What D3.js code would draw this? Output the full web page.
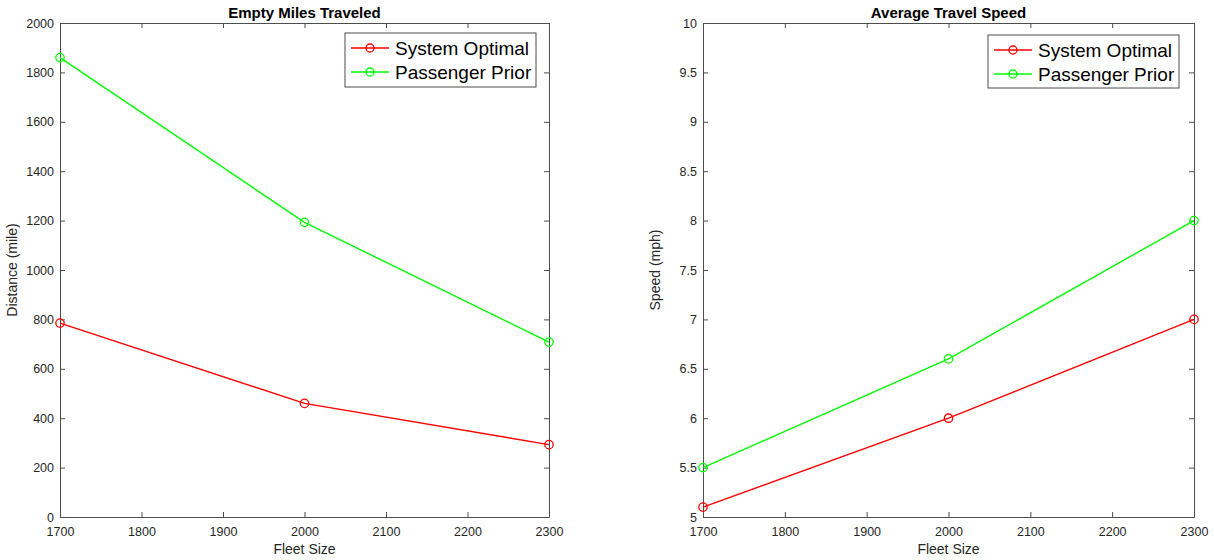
<!DOCTYPE html>
<html>
<head>
<meta charset="utf-8">
<script src="https://cdn.jsdelivr.net/npm/d3@7"></script>
<style>
  body { margin: 0; background: #fff; }
  text { font-family: "Liberation Sans", Arial, sans-serif; fill: #262626; }
</style>
</head>
<body>
<div id="chart"></div>
<script>
// data
const fleetSize = [1700, 2000, 2300];
const seriesNames = ["System Optimal", "Passenger Prior"];
const seriesColors = ["#ff0000", "#00ff00"];

const milesOptimal = [785, 460, 293];
const milesPrior = [1860, 1193, 708];
const speedOptimal = [5.1, 6.0, 7.0];
const speedPrior = [5.5, 6.6, 8.0];

const xTicks = [1700, 1800, 1900, 2000, 2100, 2200, 2300];
const milesTicks = [0, 200, 400, 600, 800, 1000, 1200, 1400, 1600, 1800, 2000];
const speedTicks = [5, 5.5, 6, 6.5, 7, 7.5, 8, 8.5, 9, 9.5, 10];

const width = 1214, height = 560;

const svg = d3.select("#chart")
    .append("svg")
    .attr("width", width)
    .attr("height", height);

const panels = [
    {
        left: 60, right: 549, title: "Empty Miles Traveled", ylabel: "Distance (mile)",
        domain: [0, 2000], ticks: milesTicks, series: [milesOptimal, milesPrior],
        legend: { x: 345, y: 33, w: 191, h: 54 }
    },
    {
        left: 703, right: 1194, title: "Average Travel Speed", ylabel: "Speed (mph)",
        domain: [5, 10], ticks: speedTicks, series: [speedOptimal, speedPrior],
        legend: { x: 988, y: 35, w: 191, h: 53 }
    }
];

const plotTop = 23, plotBottom = 517;
const axisColor = "#4d4d4d";

panels.forEach((p) => {
    const x = d3.scaleLinear().domain([1700, 2300]).range([p.left, p.right]);
    const y = d3.scaleLinear().domain(p.domain).range([plotBottom, plotTop]);
    const g = svg.append("g");

    // ticks on all four sides, pointing in
    const axes = [
        { ax: d3.axisBottom(x).tickValues(xTicks).tickSizeInner(-5).tickSizeOuter(0).tickPadding(10).tickFormat(d3.format("d")), t: `translate(0,${plotBottom})`, labels: true },
        { ax: d3.axisTop(x).tickValues(xTicks).tickSizeInner(-5).tickSizeOuter(0), t: `translate(0,${plotTop})`, labels: false },
        { ax: d3.axisLeft(y).tickValues(p.ticks).tickSizeInner(-5).tickSizeOuter(0).tickPadding(6).tickFormat((d) => String(d)), t: `translate(${p.left},0)`, labels: true },
        { ax: d3.axisRight(y).tickValues(p.ticks).tickSizeInner(-5).tickSizeOuter(0), t: `translate(${p.right},0)`, labels: false }
    ];
    axes.forEach((a) => {
        const ag = g.append("g").attr("transform", a.t).call(a.ax);
        ag.select(".domain").attr("stroke", axisColor).attr("stroke-width", 1);
        ag.selectAll(".tick line").attr("stroke", axisColor);
        ag.selectAll(".tick text")
            .attr("fill", "#262626")
            .style("font-size", "12.5px")
            .style("font-family", "Liberation Sans, Arial, sans-serif");
        if (!a.labels) ag.selectAll(".tick text").remove();
    });

    // title
    g.append("text")
        .attr("x", (p.left + p.right) / 2)
        .attr("y", 18)
        .attr("text-anchor", "middle")
        .style("font-size", "15px")
        .style("font-weight", "bold")
        .style("fill", "#000")
        .text(p.title);

    // x label
    g.append("text")
        .attr("x", (p.left + p.right) / 2)
        .attr("y", 554)
        .attr("text-anchor", "middle")
        .style("font-size", "14px")
        .text("Fleet Size");

    // y label
    g.append("text")
        .attr("transform", `translate(${p.left - 43},${(plotTop + plotBottom) / 2}) rotate(-90)`)
        .attr("text-anchor", "middle")
        .style("font-size", "14px")
        .text(p.ylabel);

    // lines and markers
    const line = d3.line().x((d, i) => x(fleetSize[i])).y((d) => y(d));
    p.series.forEach((vals, si) => {
        g.append("path")
            .datum(vals)
            .attr("d", line)
            .attr("fill", "none")
            .attr("stroke", seriesColors[si])
            .attr("stroke-width", 1.4);
        g.selectAll(null)
            .data(vals)
            .enter()
            .append("circle")
            .attr("cx", (d, i) => x(fleetSize[i]))
            .attr("cy", (d) => y(d))
            .attr("r", 4.2)
            .attr("fill", "none")
            .attr("stroke", seriesColors[si])
            .attr("stroke-width", 1.3);
    });

    // legend
    const L = p.legend;
    const lg = g.append("g").attr("transform", `translate(${L.x},${L.y})`);
    lg.append("rect")
        .attr("width", L.w)
        .attr("height", L.h)
        .attr("fill", "#fff")
        .attr("stroke", axisColor)
        .attr("stroke-width", 1);
    seriesNames.forEach((name, si) => {
        const cy = 15 + si * 24;
        lg.append("line")
            .attr("x1", 6).attr("x2", 44)
            .attr("y1", cy).attr("y2", cy)
            .attr("stroke", seriesColors[si])
            .attr("stroke-width", 1.4);
        lg.append("circle")
            .attr("cx", 25).attr("cy", cy).attr("r", 4)
            .attr("fill", "none")
            .attr("stroke", seriesColors[si])
            .attr("stroke-width", 1.3);
        lg.append("text")
            .attr("x", 50)
            .attr("y", cy + 7)
            .style("font-size", "19px")
            .style("fill", "#000")
            .text(name);
    });
});
</script>
</body>
</html>
